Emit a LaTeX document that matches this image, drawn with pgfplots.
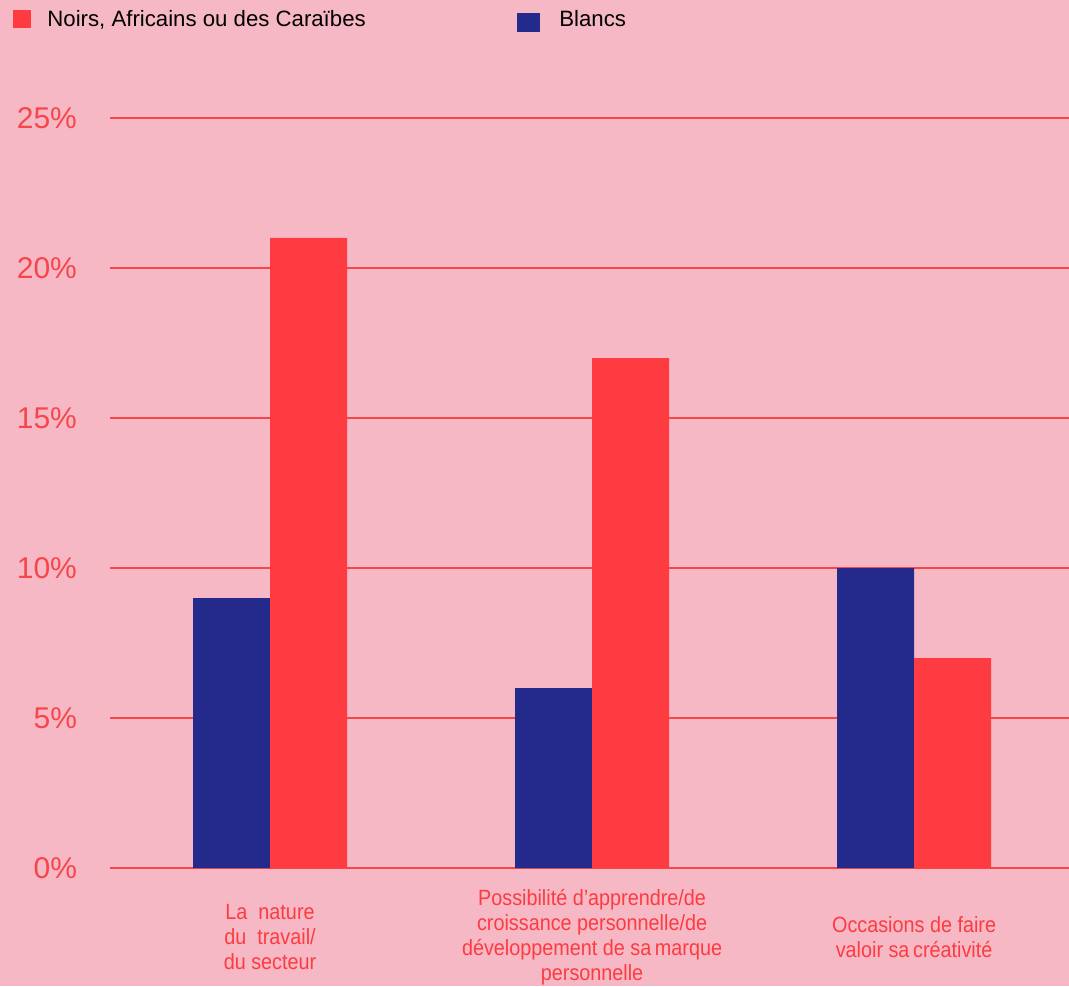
\documentclass[border=0pt]{standalone}
\usepackage{pgfplots}
\pgfplotsset{compat=1.18}
\usepackage{fontspec}
\setmainfont{Liberation Sans}
\newfontfamily\condfont[FakeStretch=0.9]{Liberation Sans}
\definecolor{bg}{RGB}{246,184,196}
\definecolor{cred}{RGB}{253,59,64}
\definecolor{cblue}{RGB}{35,42,140}
\definecolor{gridred}{RGB}{246,70,74}
\begin{document}
\begin{tikzpicture}
\fill[bg] (-55pt,-59pt) rectangle (479.5pt,434pt);
\useasboundingbox (-55pt,-59pt) rectangle (479.5pt,434pt);
\begin{axis}[
  at={(0pt,0pt)}, anchor=south west,
  scale only axis, width=479.5pt, height=375pt,
  xmin=-0.497, xmax=2.481, ymin=0, ymax=25,
  axis line style={draw=none},
  major tick length=0pt,
  ytick={0,5,10,15,20,25},
  yticklabels={0\%,5\%,10\%,15\%,20\%,25\%},
  yticklabel style={font=\fontsize{15}{18}\selectfont, text=gridred, anchor=east, xshift=-13pt},
  ymajorgrids, grid style={gridred, line width=0.8pt},
  xtick={0,1,2},
  xticklabels={{La\ \ nature\\du\ \ travail/\\du secteur},{Possibilité d’apprendre/de\\croissance personnelle/de\\développement de sa\,marque\\personnelle},{Occasions de faire\\valoir sa\,créativité}},
  xticklabel style={align=center, font=\condfont\fontsize{11}{12.5}\selectfont, text=cred, anchor=center, yshift=-34.5pt},
  ybar, bar width=0.239,
  legend columns=2,
  legend style={at={(-0.108,1.155)}, anchor=north west, draw=none, fill=none,
    font=\fontsize{11.1}{14}\selectfont, text=black,
    /tikz/every odd column/.append style={column sep=0pt},
    /tikz/every even column/.append style={column sep=73.5pt}},
]
\addlegendimage{legend image code/.code={\path[draw=none,fill=none] (0pt,0pt) rectangle (15.3pt,0.1pt); \fill[cred,draw=none] (0pt,-4.2pt) rectangle (9pt,4.8pt);}}
\addlegendentry{Noirs, Africains ou des Caraïbes}
\addlegendimage{legend image code/.code={\path[draw=none,fill=none] (0pt,0pt) rectangle (19.3pt,0.1pt); \fill[cblue,draw=none] (0pt,-6pt) rectangle (11.5pt,3.5pt);}}
\addlegendentry{Blancs}
\addplot[fill=cblue, draw=none, bar shift=-0.1195, forget plot] coordinates {(0,9) (1,6) (2,10)};
\addplot[fill=cred, draw=none, bar shift=0.1195, forget plot] coordinates {(0,21) (1,17) (2,7)};
\end{axis}
\end{tikzpicture}
\end{document}
